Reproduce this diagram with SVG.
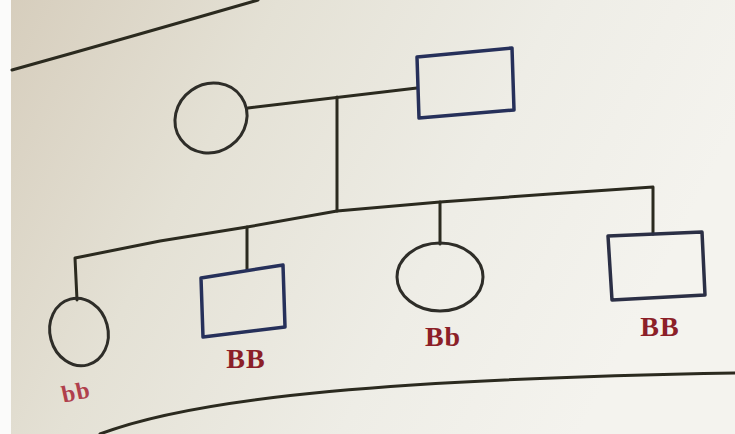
<svg xmlns="http://www.w3.org/2000/svg" width="735" height="434" viewBox="0 0 735 434">
  <defs>
    <linearGradient id="bg" x1="0" y1="0" x2="1" y2="0.3">
      <stop offset="0" stop-color="#d6cdbc"/>
      <stop offset="0.35" stop-color="#e4e1d5"/>
      <stop offset="0.7" stop-color="#eeede6"/>
      <stop offset="1" stop-color="#f4f3ee"/>
    </linearGradient>
    <style>
      .ln { fill: none; stroke: #2b2a1f; stroke-width: 3; stroke-linejoin: round; stroke-linecap: round; }
      .f { fill: none; stroke: #2e2d28; stroke-width: 3; }
      .m { fill: none; stroke: #26305a; stroke-width: 3.5; stroke-linejoin: round; }
      .lbl { font-family: "Liberation Serif", "Times New Roman", serif; font-size: 28px; fill: #8c1f28; text-anchor: middle; font-weight: bold; letter-spacing: 1px; }
    </style>
  </defs>
  <rect width="735" height="434" fill="url(#bg)"/>
  <rect width="11" height="434" fill="#fbfbfa"/>
  <!-- page edges -->
  <path class="ln" d="M12,70 Q130,37 258,0" stroke-width="3.5"/>
  <path class="ln" d="M100,434 C200,396 400,379 735,373" stroke-width="3.5"/>

  <g id="connectors">
    <path class="ln" d="M248,108 L417,88"/>
    <path class="ln" d="M337,97 L337,211"/>
    <path class="ln" d="M77,300 L75,258 L160,241 L247,227 L337,211 L440,202 L550,194 L653,187 L653,234"/>
    <path class="ln" d="M247,227 L247,270"/>
    <path class="ln" d="M440,202 L440,244"/>
  </g>

  <g id="mother">
    <ellipse class="f" cx="211" cy="118" rx="37" ry="34" transform="rotate(-35 211 118)"/>
  </g>
  <g id="father">
    <polygon class="m" points="417,57 512,48 514,110 419,118"/>
  </g>
  <g id="child1">
    <ellipse class="f" cx="79" cy="332" rx="29" ry="34" transform="rotate(-15 79 332)"/>
    <text x="76" y="400" style="font-size:24px;fill:#b0404c" class="lbl" transform="rotate(-12 76 392)">bb</text>
  </g>
  <g id="child2">
    <polygon class="m" points="201,278 283,265 285,327 203,337"/>
    <text class="lbl" x="246" y="368">BB</text>
  </g>
  <g id="child3">
    <ellipse class="f" cx="440" cy="277" rx="43" ry="34"/>
    <text class="lbl" x="443" y="346">Bb</text>
  </g>
  <g id="child4">
    <polygon class="m" points="608,236 702,232 705,295 612,300" style="stroke:#2b2f45"/>
    <text class="lbl" x="660" y="336">BB</text>
  </g>
</svg>
